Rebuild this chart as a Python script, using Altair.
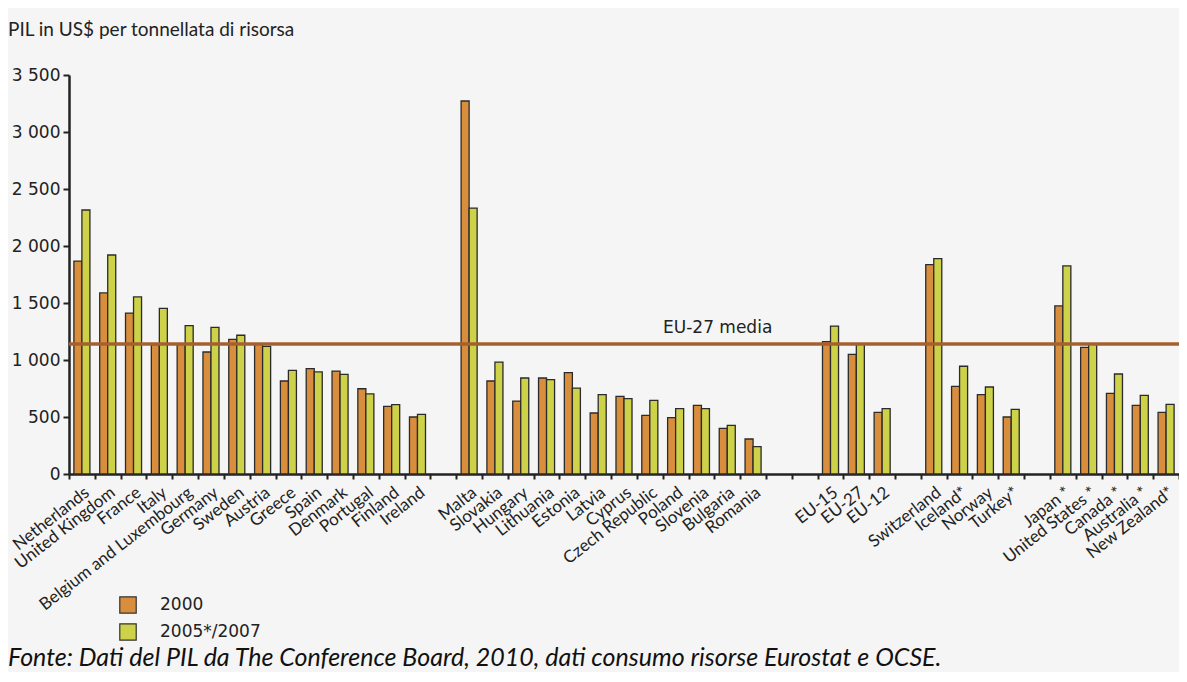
import altair as alt
import pandas as pd

# ---- data ----
slots = [
    "Netherlands", "United Kingdom", "France", "Italy", "Belgium and Luxembourg",
    "Germany", "Sweden", "Austria", "Greece", "Spain", "Denmark", "Portugal",
    "Finland", "Ireland", " ",
    "Malta", "Slovakia", "Hungary", "Lithuania", "Estonia", "Latvia", "Cyprus",
    "Czech Republic", "Poland", "Slovenia", "Bulgaria", "Romania", "  ", "   ",
    "EU-15", "EU-27", "EU-12", "    ",
    "Switzerland", "Iceland*", "Norway", "Turkey*", "     ",
    "Japan *", "United States *", "Canada *", "Australia *", "New Zealand*",
]
countries = [s for s in slots if s.strip()]
v2000 = [1868, 1588, 1412, 1135, 1140, 1070, 1181, 1142, 816, 924, 903, 748, 594, 500,
         3272, 816, 640, 842, 889, 535, 681, 515, 494, 602, 401, 307,
         1161, 1050, 541,
         1836, 769, 696, 500,
         1474, 1111, 708, 602, 541]
v2007 = [2316, 1921, 1553, 1453, 1301, 1287, 1217, 1120, 909, 895, 874, 702, 608, 523,
         2333, 982, 842, 827, 754, 696, 661, 646, 573, 573, 427, 240,
         1298, 1140, 573,
         1889, 945, 763, 567,
         1825, 1140, 877, 690, 611]
series = ["2000", "2005*/2007"]
colors = ["#d98e3e", "#cdd248"]
eu27_mean = 1140

rows = []
for c, a, b in zip(countries, v2000, v2007):
    rows.append({"country": c, "series": series[0], "value": a})
    rows.append({"country": c, "series": series[1], "value": b})
df = pd.DataFrame(rows)

label_font = "Lato"
num_font = "DejaVu Sans"

bars = alt.Chart(df).mark_bar(stroke="#2b2b2b", strokeWidth=1.3).encode(
    x=alt.X("country:N", sort=slots,
            scale=alt.Scale(domain=slots, paddingInner=0, paddingOuter=0),
            axis=alt.Axis(title=None, labelAngle=-38, labelFont=label_font,
                          labelFontSize=17, labelColor="#222", tickBand="extent",
                          labelLimit=400, labelOverlap=False,
                          tickSize=5, tickWidth=2, tickColor="#222",
                          domainColor="#222", domainWidth=2.5, labelPadding=5)),
    xOffset=alt.XOffset("series:N",
                        scale=alt.Scale(domain=series, paddingInner=0, paddingOuter=0.61)),
    y=alt.Y("value:Q",
            scale=alt.Scale(domain=[0, 3500], nice=False),
            axis=alt.Axis(title=None, values=list(range(0, 3501, 500)), grid=False,
                          labelExpr="replace(format(datum.value, ','), ',', ' ')",
                          labelFont=num_font, labelFontSize=17, labelColor="#222",
                          tickSize=6, tickWidth=2, tickColor="#222",
                          domainColor="#222", domainWidth=2.5, labelPadding=3)),
    color=alt.Color("series:N",
                    scale=alt.Scale(domain=series, range=colors),
                    legend=alt.Legend(orient="none", legendX=50, legendY=521, title=None,
                                      symbolType="square", symbolSize=270,
                                      symbolStrokeColor="#333", symbolStrokeWidth=1.2,
                                      labelFont=num_font, labelFontSize=17,
                                      labelColor="#222", labelOffset=23, rowPadding=5)),
)

rule_df = pd.DataFrame({"v": [eu27_mean], "lab": ["EU-27 media"]})
rule = alt.Chart(rule_df).mark_rule(color="#a5602f", strokeWidth=3.5).encode(y="v:Q")
rule_text = alt.Chart(rule_df).mark_text(
    font=num_font, fontSize=17, color="#222", align="left", baseline="alphabetic", dy=-11
).encode(x=alt.value(594), y="v:Q", text="lab:N")

title_df = pd.DataFrame({"t": ["PIL in US$ per tonnellata di risorsa"]})
title = alt.Chart(title_df).mark_text(
    font=label_font, fontSize=19, color="#222", align="left", baseline="middle"
).encode(x=alt.value(-61), y=alt.value(-45), text="t:N")

src_df = pd.DataFrame({"t": ["Fonte: Dati del PIL da The Conference Board, 2010, dati consumo risorse Eurostat e OCSE."]})
source = alt.Chart(src_df).mark_text(
    font=label_font, fontSize=25, fontStyle="italic", color="#111", align="left",
    baseline="alphabetic"
).encode(x=alt.value(-61), y=alt.value(591), text="t:N")

chart = alt.layer(bars, rule, rule_text, title, source).properties(
    width=1110, height=399,
    autosize=alt.AutoSizeParams(type="none"),
    padding={"left": 61, "top": 67, "right": 0, "bottom": 198},
    background="#f5f5f5",
).configure_view(stroke=None)

chart.save("out.html", embed_options={"renderer": "svg", "actions": False})
